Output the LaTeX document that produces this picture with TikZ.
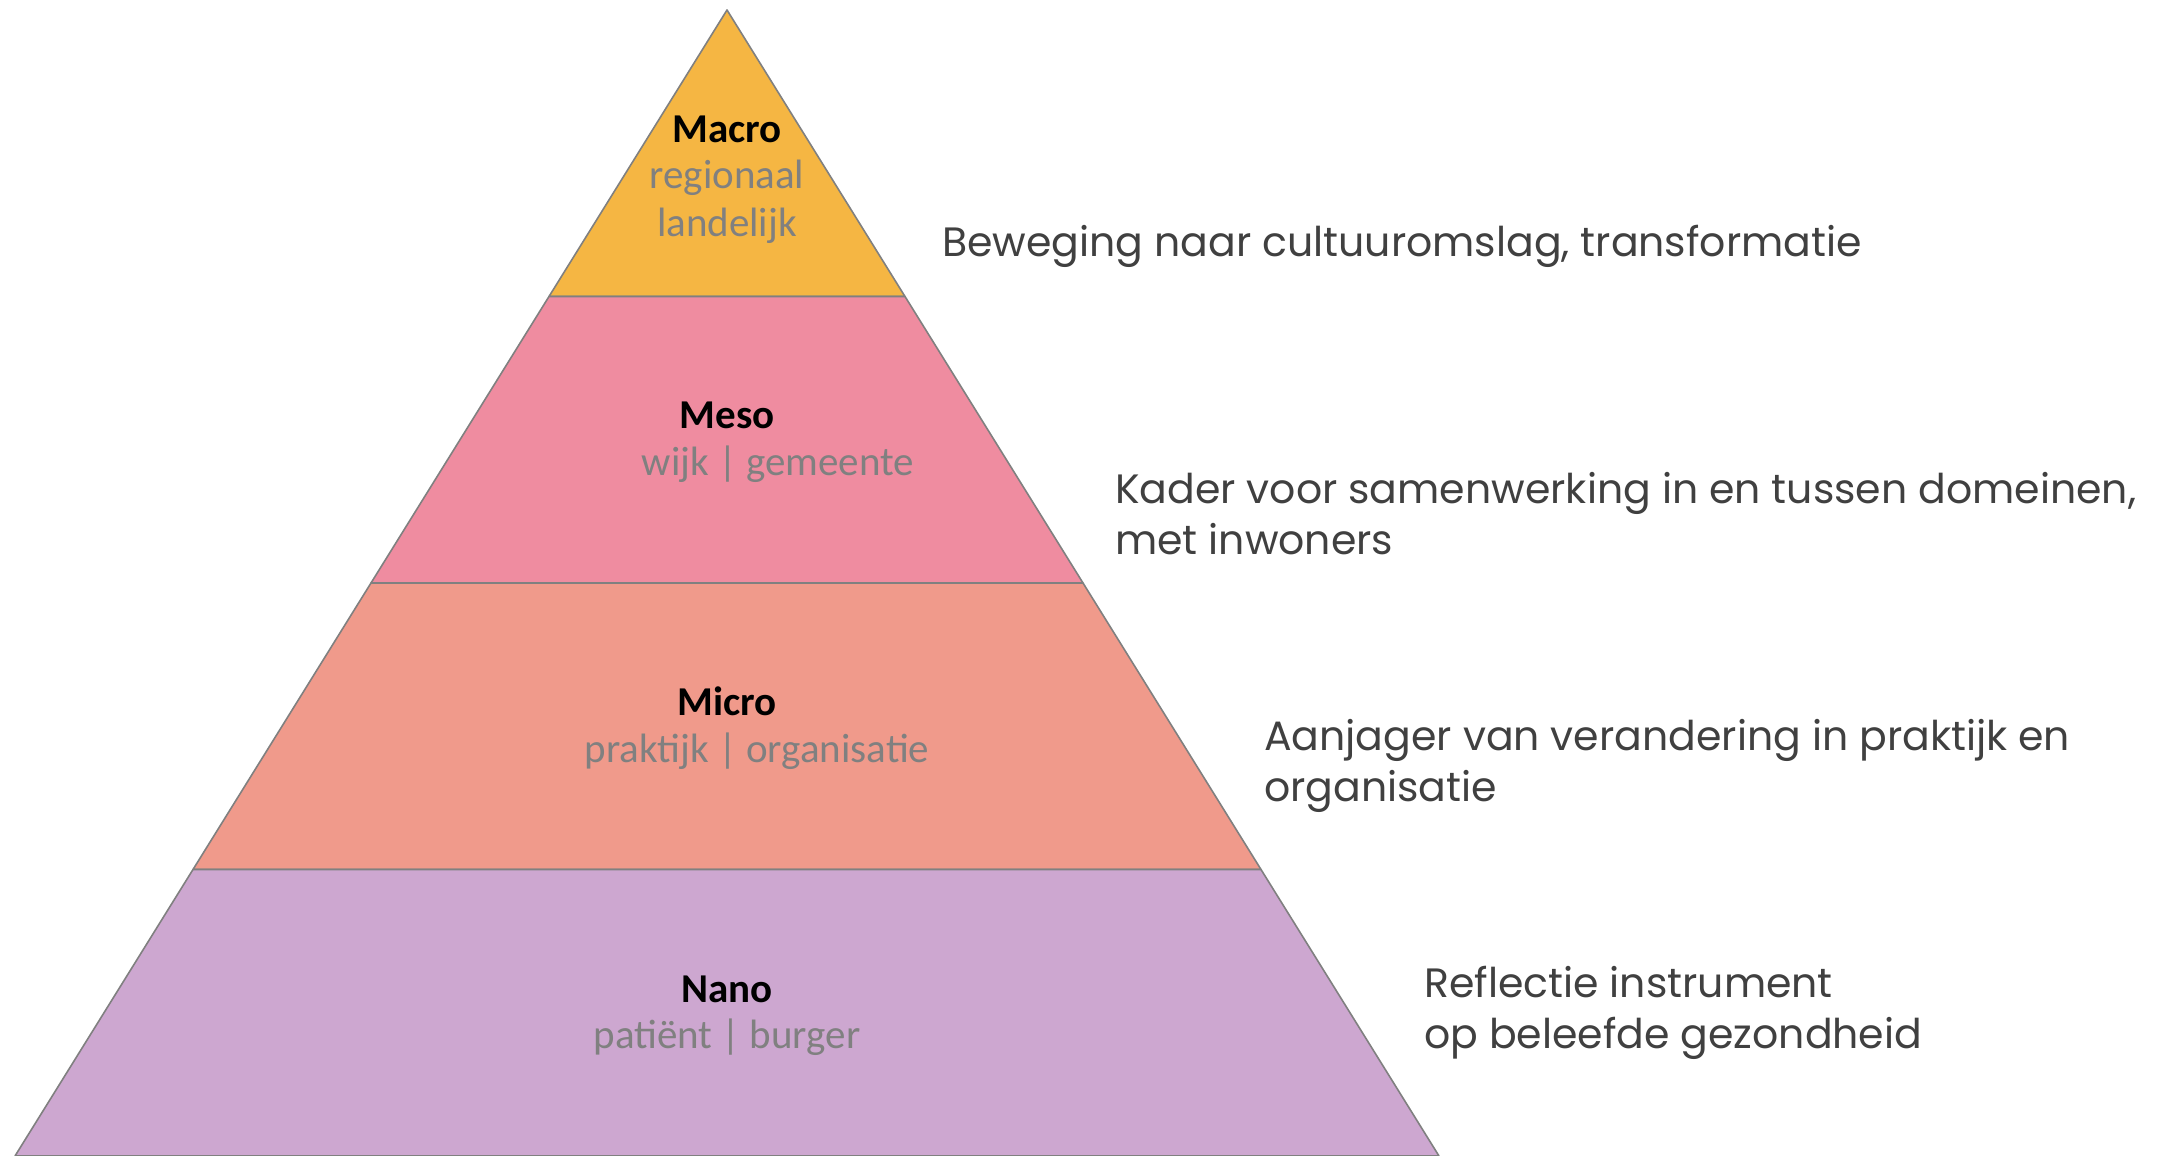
\documentclass[tikz,border=0pt]{standalone}
\usepackage{fontspec}
\setmainfont{Carlito}
\newfontfamily\descfont{Poppins}
\usetikzlibrary{calc}
\definecolor{macrocol}{HTML}{F5B643}
\definecolor{mesocol}{HTML}{EF8CA0}
\definecolor{microcol}{HTML}{F09A8B}
\definecolor{nanocol}{HTML}{CDA7D0}
\definecolor{subgray}{HTML}{808080}
\definecolor{descgray}{HTML}{404040}
\tikzset{
  x=1pt, y=-1pt,
  band/.style = {draw=subgray, line width=1.6pt, line join=round},
  lvl_head/.style = {align=center, inner sep=0pt, font=\fontsize{41}{48}\selectfont\bfseries, black},
  lvl_sub/.style = {align=center, inner sep=0pt, font=\fontsize{41}{48}\selectfont, subgray},
  desc/.style = {anchor=west, align=left, inner sep=0pt, font=\descfont\fontsize{41}{51}\selectfont, descgray}
}

\begin{document}
\begin{tikzpicture}
\useasboundingbox (0,0) rectangle (2166,1156);
\coordinate (top) at (727,10);
\coordinate (bl) at (15,1156);
\coordinate (br) at (1439,1156);
% band corners
\coordinate (l1) at ($(top)!0.25!(bl)$);
\coordinate (r1) at ($(top)!0.25!(br)$);
\coordinate (l2) at ($(top)!0.5!(bl)$);
\coordinate (r2) at ($(top)!0.5!(br)$);
\coordinate (l3) at ($(top)!0.75!(bl)$);
\coordinate (r3) at ($(top)!0.75!(br)$);

\filldraw [band, fill=macrocol] (top) -- (r1) -- (l1) -- cycle;
\filldraw [band, fill=mesocol] (l1) -- (r1) -- (r2) -- (l2) -- cycle;
\filldraw [band, fill=microcol] (l2) -- (r2) -- (r3) -- (l3) -- cycle;
\filldraw [band, fill=nanocol] (l3) -- (r3) -- (br) -- (bl) -- cycle;

% level labels
\node [lvl_head] (macro) at (727,129) {Macro};
\node [lvl_sub] (macro_sub) at (727,202) {regionaal\\landelijk};
\node [lvl_head] (meso) at (727,415) {Meso};
\node [lvl_sub] (meso_sub) at (778,464) {wijk | gemeente};
\node [lvl_head] (micro) at (727,701) {Micro};
\node [lvl_sub] (micro_sub) at (757,751) {praktijk | organisatie};
\node [lvl_head] (nano) at (727,989) {Nano};
\node [lvl_sub] (nano_sub) at (727,1037) {patiënt | burger};

% descriptions
\node [desc] (macro_desc) at (942,246) {Beweging naar cultuuromslag, transformatie};
\node [desc] (meso_desc) at (1115,514) {Kader voor samenwerking in en tussen domeinen,\\met inwoners};
\node [desc] (micro_desc) at (1264,766) {Aanjager van verandering in praktijk en\\organisatie};
\node [desc] (nano_desc) at (1424,1013) {Reflectie instrument\\op beleefde gezondheid};
\end{tikzpicture}
\end{document}
